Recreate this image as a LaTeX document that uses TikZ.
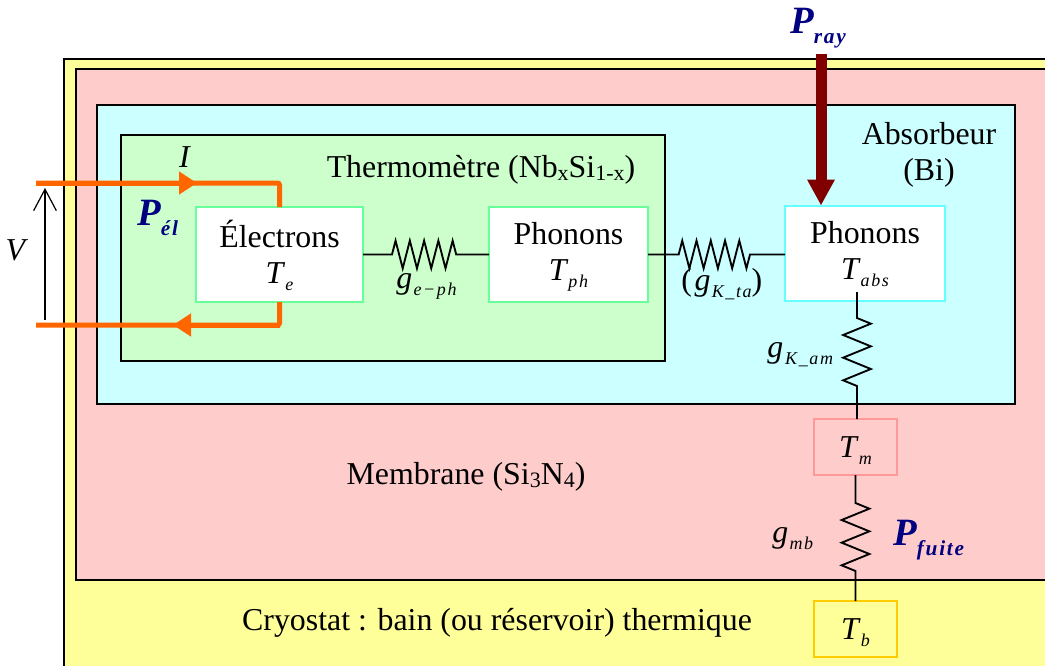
\documentclass[tikz,border=0pt]{standalone}
\usepackage{fontspec}
\setmainfont{Liberation Serif}
\usetikzlibrary{positioning, calc, arrows.meta, decorations.pathmorphing}
\definecolor{cryoyellow}{HTML}{FFFF99}
\definecolor{membpink}{HTML}{FFCCCC}
\definecolor{abscyan}{HTML}{CCFFFF}
\definecolor{thermgreen}{HTML}{CCFFCC}
\definecolor{wireorange}{HTML}{FF6600}
\definecolor{raydark}{HTML}{800000}
\definecolor{powerblue}{HTML}{000080}
\definecolor{elecedge}{HTML}{66FF99}
\definecolor{absedge}{HTML}{66FFFF}
\definecolor{membedge}{HTML}{FF9999}
\definecolor{bathedge}{HTML}{FFCC00}
\newcommand{\tempsym}[2]{\textit{#1}\smash{\raisebox{-0.22em}{\fontsize{13.5pt}{14pt}\selectfont\itshape\addfontfeature{LetterSpace=9}#2}}}
\newcommand{\powersym}[2]{{\color{powerblue}\bfseries\itshape\fontsize{29pt}{30pt}\selectfont #1\smash{\raisebox{-0.26em}{\fontsize{16pt}{18pt}\selectfont\addfontfeature{LetterSpace=8}#2}}}}
\newcommand{\chemsub}[1]{\raisebox{-0.1em}{\fontsize{16.5pt}{17pt}\selectfont #1}}
\newcommand{\lowstrut}{\rule[-4pt]{0pt}{4pt}}
\tikzset{
  % Enclosures
  region/.style    = { draw=black, line width=1.5pt },
  % Thermal nodes
  tempbox/.style   = { draw, line width=1.5pt, fill=white, align=center, inner sep=0,
                        outer sep=0, font=\fontsize{23.9pt}{27pt}\selectfont },
  elecbox/.style   = { tempbox, draw=elecedge, minimum width=125.25pt, minimum height=71.25pt },
  absbox/.style    = { tempbox, draw=absedge, minimum width=120pt, minimum height=71.25pt },
  smallbox/.style  = { tempbox, minimum width=62.25pt, minimum height=42pt },
  % Connectors
  spring/.style    = { line width=1.4pt, decorate, decoration={zigzag, amplitude=10.4pt} },
  wire/.style      = { wireorange, line width=3.75pt, rounded corners=1.5pt },
  wirehead/.style  = { wireorange, line width=3.75pt, -{Triangle[length=13.5pt, width=16.5pt]} },
  rayarrow/.style  = { raydark, line width=8.25pt, -{Triangle[length=19.5pt, width=19.5pt]} },
  voltarrow/.style = { line width=0.9pt, -{Straight Barb[length=16pt, width=17pt]} },
  % Texts
  txtlabel/.style  = { font=\fontsize{23.9pt}{27pt}\selectfont, inner sep=0, align=center },
  symlabel/.style  = { txtlabel, anchor=base west }
}

\begin{document}
\begin{tikzpicture}[x=0.75pt, y=-0.75pt]

  \clip (0,0) rectangle (1045,665);

  % nested layers
  \draw[region, fill=cryoyellow] (64,59) rectangle (1070,690);
  \draw[region, fill=membpink] (76,69) rectangle (1070,580);
  \draw[region, fill=abscyan] (97,105) rectangle (1015,404);
  \draw[region, fill=thermgreen] (121,135) rectangle (665,361);

  \node[elecbox] (elec) at (279.5,254.5) {Électrons\\\tempsym{T}{e}\lowstrut};
  \node[elecbox, minimum width=119.25pt, right=94.5pt of elec] (phth) {Phonons\\\tempsym{T}{ph}\lowstrut};
  \node[absbox] (abs) at (865,253) {Phonons\\\tempsym{T}{abs}\lowstrut};
  \node[smallbox, draw=membedge, fill=membpink] (tm) at (855.5,447) {\tempsym{T}{m}};
  \node[smallbox, draw=bathedge, fill=cryoyellow, below=94.5pt of tm] (tb) {\tempsym{T}{b}};

  \node[txtlabel] (thermlabel) at (481,169.5) {Thermomètre (Nb\chemsub{x}Si\chemsub{1-x})};
  \node[txtlabel] (abslabel) at (929,155) {Absorbeur\\(Bi)};
  \node[txtlabel] (memblabel) at (466,477) {Membrane (Si\chemsub{3}N\chemsub{4})};
  \node[txtlabel] (cryolabel) at (497,623) {Cryostat : bain (ou réservoir) thermique};

  \node[txtlabel] (ilabel) at (185,157) {\textit{I}};
  \node[txtlabel] (vlabel) at (17,250) {\textit{V}};
  \node[symlabel] (gep) at (396,288) {\tempsym{g\kern1pt}{e−ph}};
  \node[symlabel] (gta) at (681,290) {(\kern2pt\tempsym{g\kern1pt}{K\_ta})};
  \node[symlabel] (gam) at (767,357) {\tempsym{g\kern1.5pt}{K\_am}};
  \node[symlabel] (gmb) at (772,542) {\tempsym{g\kern1pt}{mb}};
  \node[symlabel] (pel) at (137,225) {\powersym{P}{él}};
  \node[symlabel] (pray) at (790,33) {\powersym{P}{ray}};
  \node[symlabel] (pfuite) at (893,545) {\powersym{P}{fuite}};

  \coordinate (wiretop) at (36,183);
  \coordinate (wirebot) at (36,325);
  \coordinate (headtop) at (197,183);
  \coordinate (headbot) at (173,325);
  \coordinate (vbot) at (45,320);
  \coordinate (vtop) at (45,188);
  \coordinate (rayin) at (821,54);
  \coordinate (amtop) at (857,292);
  \coordinate (ambot) at (amtop |- tm.north);

  \draw[spring, decoration={segment length=10.7pt, pre length=21.75pt, post length=20pt}] (elec.east) -- (phth.west);
  \draw[spring, decoration={segment length=10.7pt, pre length=23pt, post length=21pt}] (phth.east) -- (abs.west |- phth.east);
  \draw[spring, decoration={segment length=17pt, pre length=19.5pt, post length=22pt}] (amtop) -- (ambot);
  \draw[spring, decoration={segment length=17pt, pre length=21pt, post length=21pt}] (tm.south) -- (tb.north);

  \draw[wire] (wiretop) -| (elec.north);
  \draw[wirehead] (wiretop) -- (headtop);
  \draw[wire] (wirebot) -| (elec.south);
  \draw[wirehead] (elec.south |- wirebot) -- (headbot);
  \draw[voltarrow] (vbot) -- (vtop);
  \draw[rayarrow] (rayin) -- (rayin |- abs.north);

\end{tikzpicture}
\end{document}
